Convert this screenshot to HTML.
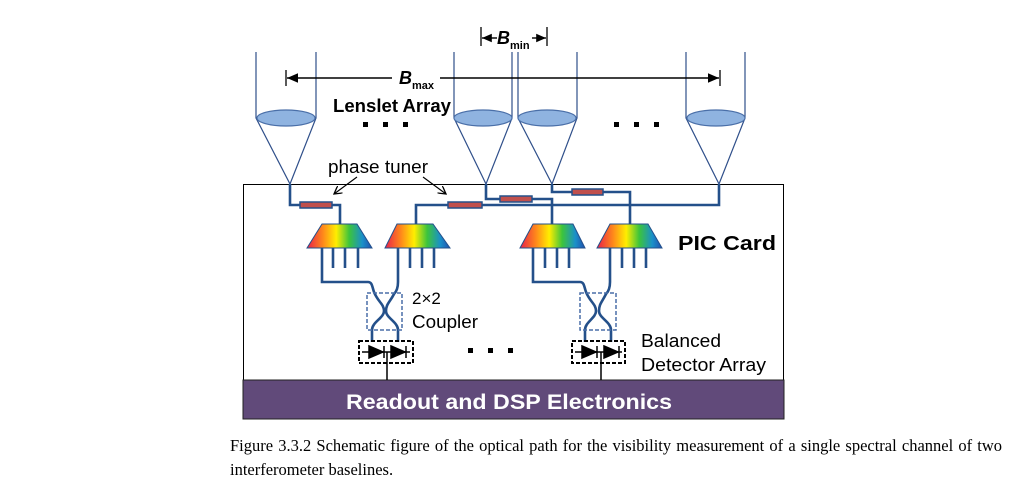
<!DOCTYPE html>
<html><head><meta charset="utf-8"><style>
body{margin:0;background:#fff;width:1034px;height:483px;overflow:hidden;position:relative}
svg{position:absolute;left:0;top:0}
.cap{position:absolute;left:230px;top:434px;width:772px;font-family:"Liberation Serif",serif;font-size:16.5px;line-height:24px;text-align:justify;text-align-last:left;color:#000}
</style></head><body>
<svg width="1034" height="483" viewBox="0 0 1034 483" font-family="Liberation Sans, Arial, sans-serif">
<defs>
<linearGradient id="rb" x1="0" x2="1" y1="0" y2="0">
<stop offset="0" stop-color="#e8204a"/><stop offset="0.25" stop-color="#ff8a1a"/><stop offset="0.45" stop-color="#ffee00"/><stop offset="0.65" stop-color="#3cc43c"/><stop offset="0.85" stop-color="#1a90c8"/><stop offset="1" stop-color="#2050b0"/>
</linearGradient>
<marker id="ah" markerWidth="8" markerHeight="8" refX="7" refY="4" orient="auto"><path d="M0,0 L7,4 L0,8" fill="none" stroke="#000" stroke-width="1.2"/></marker>
<marker id="bh" markerWidth="8" markerHeight="8" refX="7" refY="4" orient="auto"><path d="M0,1 L7,4 L0,7 Z" fill="#000"/></marker>
</defs>
<rect x="243.5" y="184.5" width="540" height="196" fill="none" stroke="#000" stroke-width="1"/>
<rect x="243" y="380" width="541" height="39" fill="#614a7a" stroke="#222" stroke-width="1"/>
<text x="346" y="409" fill="#fff" font-size="21" font-weight="bold" textLength="326" lengthAdjust="spacingAndGlyphs">Readout and DSP Electronics</text>
<g stroke="#2f4f8a" stroke-width="1.2" fill="none">
<path d="M256,52V118L290,184L316,118V52"/>
<path d="M454,52V118L486,184L512,118V52"/>
<path d="M518,52V118L552,184L577,118V52"/>
<path d="M686,52V118L719,184L745,118V52"/>
</g>
<g fill="#8fb3e0" stroke="#4a6fa8" stroke-width="1.2">
<ellipse cx="286" cy="118" rx="29" ry="8"/>
<ellipse cx="483" cy="118" rx="29" ry="8"/>
<ellipse cx="547" cy="118" rx="29" ry="8"/>
<ellipse cx="716" cy="118" rx="29" ry="8"/>
</g>
<g fill="#000">
<rect x="363" y="122" width="5" height="5"/><rect x="383" y="122" width="5" height="5"/><rect x="403" y="122" width="5" height="5"/>
<rect x="614" y="122" width="5" height="5"/><rect x="634" y="122" width="5" height="5"/><rect x="654" y="122" width="5" height="5"/>
<rect x="468" y="348" width="5" height="5"/><rect x="488" y="348" width="5" height="5"/><rect x="508" y="348" width="5" height="5"/>
</g>
<line x1="286" y1="70" x2="286" y2="86" stroke="#000" stroke-width="1.3"/>
<line x1="720" y1="70" x2="720" y2="86" stroke="#000" stroke-width="1.3"/>
<line x1="392" y1="78" x2="287" y2="78" stroke="#000" stroke-width="1.6" marker-end="url(#bh)"/>
<line x1="440" y1="78" x2="719" y2="78" stroke="#000" stroke-width="1.6" marker-end="url(#bh)"/>
<text x="399" y="84" font-size="18" font-weight="bold" font-style="italic">B</text>
<text x="412" y="89" font-size="11" font-weight="bold">max</text>
<line x1="481" y1="27" x2="481" y2="46" stroke="#000" stroke-width="1.3"/>
<line x1="547" y1="27" x2="547" y2="46" stroke="#000" stroke-width="1.3"/>
<line x1="497" y1="38" x2="482" y2="38" stroke="#000" stroke-width="1.4" marker-end="url(#bh)"/>
<line x1="532" y1="38" x2="546" y2="38" stroke="#000" stroke-width="1.4" marker-end="url(#bh)"/>
<text x="497" y="44" font-size="18" font-weight="bold" font-style="italic">B</text>
<text x="510" y="49" font-size="11" font-weight="bold">min</text>
<text x="333" y="112" font-size="18" font-weight="bold" textLength="118" lengthAdjust="spacingAndGlyphs">Lenslet Array</text>
<text x="328" y="173" font-size="18" textLength="100" lengthAdjust="spacingAndGlyphs">phase tuner</text>
<line x1="357" y1="177" x2="334" y2="194" stroke="#000" stroke-width="1.1" marker-end="url(#ah)"/>
<line x1="423" y1="177" x2="446" y2="194" stroke="#000" stroke-width="1.1" marker-end="url(#ah)"/>
<g stroke="#24508a" stroke-width="2.6" fill="none">
<path d="M290,184V205H340V224"/>
<path d="M719,184V205H416V224"/>
<path d="M486,184V199H552V224"/>
<path d="M552,184V192H630V224"/>
<path d="M322,248V282H368C372,282 372,286 374,292C378,302 384,304 384,311C384,318 372,322 372,330V342"/>
<path d="M333,248V268M345,248V268M358,248V268"/>
<path d="M398,248V282C398,288 396,292 394,294C390,302 386,304 386,311C386,318 398,322 398,330V342"/>
<path d="M410,248V268M422,248V268M434,248V268"/>
<path d="M533,248V282H580C584,282 584,286 586,292C590,302 596,304 596,311C596,318 585,322 585,330V342"/>
<path d="M545,248V268M557,248V268M569,248V268"/>
<path d="M610,248V282C610,288 608,292 606,294C602,302 599,304 599,311C599,318 611,322 611,330V342"/>
<path d="M622,248V268M634,248V268M646,248V268"/>
</g>
<g fill="#c0504d" stroke="#24508a" stroke-width="1.5">
<rect x="300" y="202" width="32" height="6"/>
<rect x="448" y="202" width="34" height="6"/>
<rect x="500" y="196" width="32" height="6"/>
<rect x="572" y="189" width="31" height="6"/>
</g>
<g fill="url(#rb)" stroke="#24508a" stroke-width="1">
<path d="M322,224H357L372,248H307Z"/>
<path d="M397,224H433L450,248H385Z"/>
<path d="M533,224H573L585,248H520Z"/>
<path d="M610,224H648L662,248H597Z"/>
</g>
<g fill="none" stroke="#4a6fa8" stroke-width="1.5" stroke-dasharray="4,2">
<rect x="367" y="293" width="35" height="37"/>
<rect x="580" y="293" width="36" height="37"/>
</g>
<text x="412" y="304" font-size="17">2×2</text>
<text x="412" y="328" font-size="18" textLength="66" lengthAdjust="spacingAndGlyphs">Coupler</text>
<g stroke="#000" stroke-width="2" fill="none" stroke-dasharray="4,2">
<rect x="359" y="341" width="54" height="22"/>
<rect x="572" y="341" width="53" height="22"/>
</g>
<g fill="#000" stroke="#000" stroke-width="1.5">
<path d="M369,346L383,352L369,358Z"/><line x1="384" y1="346" x2="384" y2="358"/>
<path d="M391,346L405,352L391,358Z"/><line x1="406" y1="346" x2="406" y2="358"/>
<line x1="362" y1="352" x2="410" y2="352"/>
<path d="M582,346L596,352L582,358Z"/><line x1="597" y1="346" x2="597" y2="358"/>
<path d="M604,346L618,352L604,358Z"/><line x1="619" y1="346" x2="619" y2="358"/>
<line x1="575" y1="352" x2="622" y2="352"/>
<line x1="387" y1="352" x2="387" y2="380"/>
<line x1="601" y1="352" x2="601" y2="380"/>
</g>
<text x="641" y="347" font-size="18" textLength="80" lengthAdjust="spacingAndGlyphs">Balanced</text>
<text x="641" y="371" font-size="18" textLength="125" lengthAdjust="spacingAndGlyphs">Detector Array</text>
<text x="678" y="250" font-size="20" font-weight="bold" textLength="98" lengthAdjust="spacingAndGlyphs">PIC Card</text>
</svg>
<div class="cap">Figure 3.3.2 Schematic figure of the optical path for the visibility measurement of a single spectral channel of two interferometer baselines.</div>
</body></html>
